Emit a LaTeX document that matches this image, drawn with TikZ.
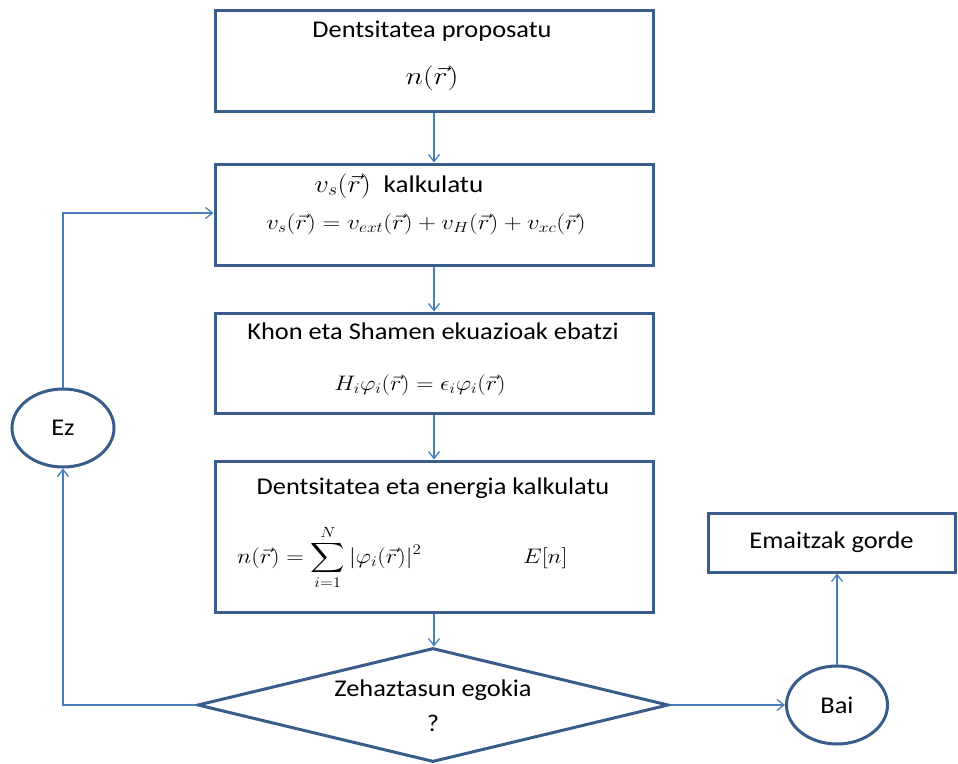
\RequirePackage{fix-cm}
\documentclass[tikz,border=0pt]{standalone}
\usepackage{amsmath}
\usepackage{fontspec}
\setmainfont{Carlito}
\usetikzlibrary{arrows.meta,shapes.geometric}
\definecolor{boxblue}{RGB}{56,93,138}
\definecolor{lineblue}{RGB}{74,126,187}
\newcommand\widetxt[1]{\scalebox{1.1}[1]{#1}}
\newcommand\widemath[2]{\scalebox{#1}[1]{#2}}
\begin{document}
\begin{tikzpicture}[x=1pt,y=-1pt,
  stepbox/.style={draw=boxblue,line width=3pt,rectangle,inner sep=0pt},
  ovalbox/.style={draw=boxblue,line width=3pt,ellipse,inner sep=0pt,font=\fontsize{24}{28}\selectfont},
  conn/.style={draw=lineblue,line width=1.3pt,-{Straight Barb[length=7pt,width=11pt,line width=1.3pt]}},
  lbl/.style={inner sep=0pt,font=\fontsize{24}{28}\selectfont},
  mbig/.style={inner sep=0pt,font=\fontsize{25}{30}\selectfont},
  mmid/.style={inner sep=0pt,font=\fontsize{21}{25}\selectfont}]
\useasboundingbox (0,0) rectangle (958,763);
% boxes
\node[stepbox,minimum width=438pt,minimum height=101pt] (b1) at (434,60.5) {};
\node[stepbox,minimum width=438pt,minimum height=101pt] (b2) at (434,214.5) {};
\node[stepbox,minimum width=438pt,minimum height=100pt] (b3) at (434,363) {};
\node[stepbox,minimum width=438pt,minimum height=151pt] (b4) at (434,536.5) {};
\node[draw=boxblue,line width=3pt,diamond,inner sep=0pt,minimum width=471pt,minimum height=114pt] (dia) at (433,705) {};
\node[ovalbox,minimum width=102pt,minimum height=78pt] (ez) at (63,428) {\widetxt{Ez}};
\node[ovalbox,minimum width=101pt,minimum height=78pt] (bai) at (837,705) {\widetxt{Bai}};
\node[stepbox,minimum width=247pt,minimum height=59pt,font=\fontsize{24}{28}\selectfont] (res) at (831.5,542.5) {\widetxt{Emaitzak gorde}};
% texts
\node[lbl] (t1) at (432,31) {\widetxt{Dentsitatea proposatu}};
\node[mbig] (m1) at (432,78) {\widemath{1.2}{$n(\vec r)$}};
\node[lbl,anchor=base] (t2) at (399,192) {\widemath{1.13}{\fontsize{25}{30}\selectfont$v_s(\vec r)$\ \ \fontsize{24}{28}\selectfont kalkulatu}};
\node[mmid] (m2) at (426,224) {\widemath{1.18}{$v_s(\vec r)=v_{ext}(\vec r)+v_H(\vec r)+v_{xc}(\vec r)$}};
\node[lbl] (t3) at (433,331) {\widetxt{Khon eta Shamen ekuazioak ebatzi}};
\node[mmid] (m3) at (420,385) {\widemath{1.14}{$H_i\varphi_i(\vec r)=\epsilon_i\varphi_i(\vec r)$}};
\node[lbl] (t4) at (433,488) {\widetxt{Dentsitatea eta energia kalkulatu}};
\node[mmid,anchor=base west] (m4) at (237,563) {\widemath{1.15}{$\displaystyle n(\vec r)=\sum_{i=1}^{N}|\varphi_i(\vec r)|^2$}};
\node[mmid,anchor=base west] (m5) at (523,563) {\widemath{1.13}{$E[n]$}};
\node[lbl] (t5) at (433,690) {\widetxt{Zehaztasun egokia}};
\node[lbl] (t6) at (433,723) {\widetxt{?}};
% connectors
\draw[conn] (b1.south) -- (b2.north);
\draw[conn] (b2.south) -- (b3.north);
\draw[conn] (b3.south) -- (b4.north);
\draw[conn] (b4.south) -- (b4.south |- dia.north);
\coordinate (cl) at (63,705);
\coordinate (ct) at (63,213);
\draw[conn] (dia.west) -- (cl) -- (ez.south);
\draw[conn] (ez.north) -- (ct) -- (b2.west |- ct);
\draw[conn] (dia.east) -- (bai.west);
\draw[conn] (bai.north) -- (bai.north |- res.south);
\end{tikzpicture}
\end{document}
